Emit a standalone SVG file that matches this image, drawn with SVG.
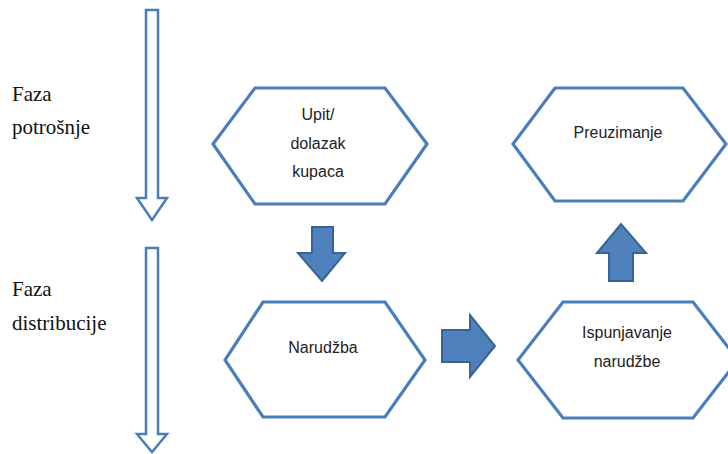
<svg xmlns="http://www.w3.org/2000/svg" width="728" height="454" viewBox="0 0 728 454">
<style>
.hex{fill:#fff;stroke:#4a7ebb;stroke-width:3.2;stroke-linejoin:miter}
.long{fill:#fff;stroke:#4a7ebb;stroke-width:2.5}
.blk{fill:#4f81bd;stroke:#3a6292;stroke-width:2}
.lbl{font-family:"Liberation Serif",serif;font-size:21px;fill:#111}
.t{font-family:"Liberation Sans",Arial,sans-serif;font-size:16px;fill:#222;text-anchor:middle}
</style>
<rect width="728" height="454" fill="#fff"/>
<g id="labels">
<text class="lbl" x="12" y="101">Faza</text>
<text class="lbl" x="12" y="134">potrošnje</text>
<text class="lbl" x="12" y="296">Faza</text>
<text class="lbl" x="12" y="330">distribucije</text>
</g>
<g id="connectors">
<polygon class="long" points="146,10 158,10 158,198 167,198 152,220 137,198 146,198"/>
<polygon class="long" points="146,248 158,248 158,434 167,434 152,452 137,434 146,434"/>
<polygon class="blk" points="312,227 333,227 333,253 345,253 322,281 298,253 312,253"/>
<polygon class="blk" points="442,330 470,330 470,315 495,346 470,377 470,362 442,362"/>
<polygon class="blk" points="609,281 633,281 633,253 646,253 621,224 597,253 609,253"/>
</g>
<g id="upit">
<polygon class="hex" points="255,88 385,88 427,144 385,204 255,204 213,144"/>
<text class="t" x="318" y="120">Upit/</text>
<text class="t" x="318" y="149">dolazak</text>
<text class="t" x="318" y="177">kupaca</text>
</g>
<g id="preuzimanje">
<polygon class="hex" points="555,88 683,88 726,144 683,201 555,201 513,144"/>
<text class="t" x="618" y="138">Preuzimanje</text>
</g>
<g id="narudzba">
<polygon class="hex" points="263,302 385,302 425,360 385,417 263,417 225,360"/>
<text class="t" x="323" y="353">Narudžba</text>
</g>
<g id="ispunjavanje">
<polygon class="hex" points="563,302 693,302 738,360 693,418 563,418 518,360"/>
<text class="t" x="627" y="338">Ispunjavanje</text>
<text class="t" x="627" y="367">narudžbe</text>
</g>
</svg>
